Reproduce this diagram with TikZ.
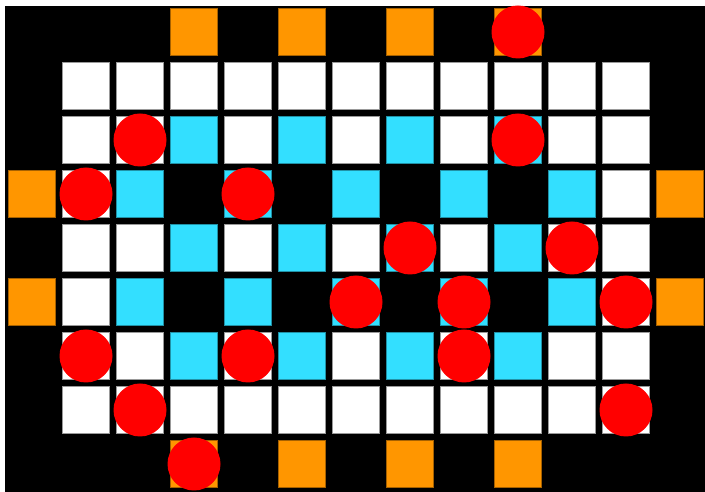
\documentclass[tikz,border=0pt]{standalone}
\usepackage{tikz}
\definecolor{portorange}{HTML}{FF9600}
\definecolor{tilecyan}{HTML}{33DFFF}
\definecolor{tokenred}{HTML}{FF0000}

\begin{document}
\begin{tikzpicture}[
  x=0.54cm, y=-0.54cm,
  tile/.style={rectangle,draw=gray!80,line width=0.5pt,minimum size=0.47cm,inner sep=0pt},
  plain/.style={tile,fill=white},
  water/.style={tile,fill=tilecyan,draw=tilecyan!65!black},
  port/.style={tile,fill=portorange,draw=portorange!65!black},
  token/.style={circle,fill=tokenred,minimum size=0.53cm,inner sep=0pt}
]
\fill[white] (-1.5926,-1.5926) rectangle (11.463,7.5185);
\fill[black] (-1.5,-1.4815) rectangle (11.463,7.5185);
\useasboundingbox (-1.5926,-1.5926) rectangle (11.463,7.5185);
% board
\foreach \c in {0,...,10} {
  \node[plain] (t-0-\c) at (\c,0) {};
  \node[plain] (t-6-\c) at (\c,6) {};
}
\foreach \r in {1,3,5} {
  \foreach \c in {0,1,3,5,7,9,10}
    \node[plain] (t-\r-\c) at (\c,\r) {};
  \foreach \c in {2,4,6,8}
    \node[water] (t-\r-\c) at (\c,\r) {};
}
\foreach \r in {2,4} {
  \node[plain] (t-\r-0) at (0,\r) {};
  \node[plain] (t-\r-10) at (10,\r) {};
  \foreach \c in {1,3,5,7,9}
    \node[water] (t-\r-\c) at (\c,\r) {};
}
% ports round the edge
\foreach \c in {2,4,6,8} {
  \node[port] (pn-\c) at (\c,-1) {};
  \node[port] (ps-\c) at (\c,7) {};
}
\foreach \r in {2,4} {
  \node[port] (pw-\r) at (-1,\r) {};
  \node[port] (pe-\r) at (11,\r) {};
}
% tokens
\node[token] (k1) at (pn-8) {};
\node[token] (k2) at (ps-2) {};
\foreach \r/\c [count=\i from 3] in {1/1,1/8,2/0,2/3,3/6,3/9,4/5,4/7,4/10,5/0,5/3,5/7,6/1,6/10}
  \node[token] (k\i) at (t-\r-\c) {};
\end{tikzpicture}
\end{document}
